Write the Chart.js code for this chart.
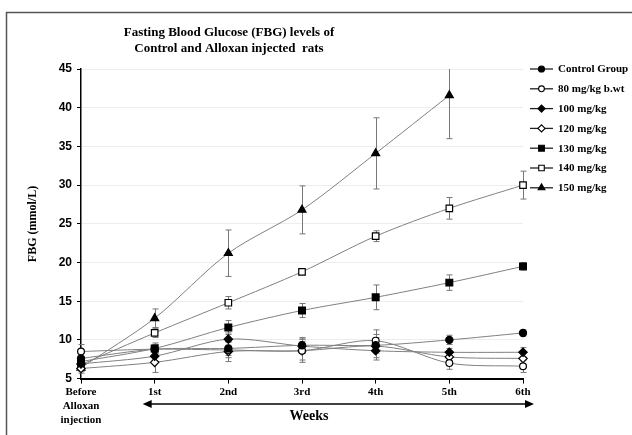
<!DOCTYPE html>
<html>
<head>
<meta charset="utf-8">
<script src="https://cdn.jsdelivr.net/npm/chart.js@4/dist/chart.umd.min.js"></script>
<style>
  html, body { margin: 0; padding: 0; background: #fff; }
  #wrap { width: 632px; height: 435px; position: relative; }
</style>
</head>
<body>
<div id="wrap"><canvas id="fbg" width="632" height="435"></canvas></div>
<script>
// categorías (semanas)
const weeks = [['Before', 'Alloxan', 'injection'], '1st', '2nd', '3rd', '4th', '5th', '6th'];

// medias FBG (mmol/L)
const control  = [7.6, 8.8, 8.9, 9.3, 9.3, 10.0, 10.9];
const dose80   = [8.5, 8.8, 8.7, 8.6, 9.9, 7.0, 6.6];
const dose100  = [6.9, 7.9, 10.1, 9.2, 8.6, 8.4, 8.4];
const dose120  = [6.3, 7.1, 8.5, 8.6, 9.2, 7.8, 7.6];
const dose130  = [7.2, 8.9, 11.6, 13.8, 15.5, 17.4, 19.5];
const dose140  = [6.8, 10.9, 14.8, 18.8, 23.4, 27.0, 30.0];
const dose150  = [6.4, 12.8, 21.2, 26.8, 34.1, 41.6, null];

// barras de error (± DE)
const errControl = [0.8, 0.6, 0.9, 1.0, 1.0, 0.6, 0.4];
const err80      = [0.9, 0.6, 1.0, 1.2, 1.4, 0.8, 0.8];
const err100     = [0.8, 0.7, 0.8, 0.9, 1.2, 0.5, 0.6];
const err120     = [0.6, 1.3, 1.3, 1.5, 1.5, 0.7, 0.8];
const err130     = [0.6, 0.7, 0.9, 0.9, 1.6, 1.0, 0.5];
const err140     = [0.5, 0.6, 0.8, 0.3, 0.7, 1.4, 1.8];
const err150     = [0.5, 1.2, 3.0, 3.1, 4.6, 5.6, null];

const yTicks = [5, 10, 15, 20, 25, 30, 35, 40, 45];

const SERIF = '"Liberation Serif", "Times New Roman", serif';
const SANS = '"Liberation Sans", Arial, sans-serif';

function serie(label, data, errs, style, filled, radius) {
    return {
        label, data, errs,
        borderColor: '#808080',
        borderWidth: 1,
        pointStyle: style,
        pointRadius: radius,
        pointHoverRadius: radius,
        pointBackgroundColor: filled ? '#000' : '#fff',
        pointBorderColor: '#000',
        pointBorderWidth: 1.2,
        tension: 0.3,
        fill: false
    };
}

const datasets = [
    serie('Control Group', control, errControl, 'circle', true, 3.6),
    serie('80 mg/kg b.wt', dose80, err80, 'circle', false, 3.4),
    serie('100 mg/kg', dose100, err100, 'rectRot', true, 4.2),
    serie('120 mg/kg', dose120, err120, 'rectRot', false, 4.2),
    serie('130 mg/kg', dose130, err130, 'rect', true, 4.8),
    serie('140 mg/kg', dose140, err140, 'rect', false, 4.6),
    serie('150 mg/kg', dose150, err150, 'triangle', true, 4.6)
];

// barras de error, marco, título, leyenda y flecha de semanas
const extras = {
    id: 'extras',
    beforeDraw(chart) {
        const ctx = chart.ctx;
        ctx.save();
        ctx.strokeStyle = '#555';
        ctx.lineWidth = 1.5;
        ctx.beginPath();
        ctx.moveTo(6.5, 435);
        ctx.lineTo(6.5, 12.5);
        ctx.lineTo(632, 12.5);
        ctx.stroke();
        ctx.restore();
    },
    beforeDatasetsDraw(chart) {
        const ctx = chart.ctx, x = chart.scales.x, y = chart.scales.y, a = chart.chartArea;
        ctx.save();
        ctx.beginPath();
        ctx.rect(a.left - 6, a.top, a.right - a.left + 12, a.bottom - a.top);
        ctx.clip();
        ctx.strokeStyle = '#777';
        ctx.lineWidth = 1;
        chart.data.datasets.forEach(ds => {
            ds.data.forEach((v, i) => {
                const e = ds.errs[i];
                if (v == null || e == null) return;
                const px = Math.round(x.getPixelForValue(i)) + 0.5;
                const top = y.getPixelForValue(v + e), bot = y.getPixelForValue(v - e);
                ctx.beginPath();
                ctx.moveTo(px, top); ctx.lineTo(px, bot);
                ctx.moveTo(px - 3, top); ctx.lineTo(px + 3, top);
                ctx.moveTo(px - 3, bot); ctx.lineTo(px + 3, bot);
                ctx.stroke();
            });
        });
        ctx.restore();
    },
    afterDraw(chart) {
        const ctx = chart.ctx, x = chart.scales.x;
        ctx.save();
        ctx.fillStyle = '#000';
        ctx.textAlign = 'center';
        ctx.textBaseline = 'middle';

        // título
        ctx.font = 'bold 13px ' + SERIF;
        ctx.fillText('Fasting Blood Glucose (FBG) levels of', 229, 33);
        ctx.fillText('Control and Alloxan injected  rats', 229, 49);

        // título eje Y
        ctx.save();
        ctx.translate(33, 224);
        ctx.rotate(-Math.PI / 2);
        ctx.font = 'bold 12px ' + SERIF;
        ctx.fillText('FBG (mmol/L)', 0, 0);
        ctx.restore();

        // flecha doble de semanas
        const x1 = x.getPixelForValue(1) - 12, x2 = x.getPixelForValue(6) + 11, ay = 404;
        ctx.strokeStyle = '#000';
        ctx.lineWidth = 1.5;
        ctx.beginPath();
        ctx.moveTo(x1 + 6, ay); ctx.lineTo(x2 - 6, ay);
        ctx.stroke();
        ctx.beginPath();
        ctx.moveTo(x1, ay); ctx.lineTo(x1 + 9, ay - 4); ctx.lineTo(x1 + 9, ay + 4); ctx.closePath();
        ctx.moveTo(x2, ay); ctx.lineTo(x2 - 9, ay - 4); ctx.lineTo(x2 - 9, ay + 4); ctx.closePath();
        ctx.fill();
        ctx.font = 'bold 14px ' + SERIF;
        ctx.fillText('Weeks', 309, 416);

        // leyenda
        ctx.textAlign = 'left';
        ctx.font = 'bold 11px ' + SERIF;
        chart.data.datasets.forEach((ds, i) => {
            const ly = 69 + i * 19.8;
            ctx.strokeStyle = '#222';
            ctx.lineWidth = 1.3;
            ctx.beginPath();
            ctx.moveTo(530, ly); ctx.lineTo(553, ly);
            ctx.stroke();
            ctx.fillStyle = ds.pointBackgroundColor;
            ctx.strokeStyle = '#000';
            ctx.lineWidth = 1.1;
            Chart.helpers.drawPoint(ctx, { pointStyle: ds.pointStyle, radius: ds.pointRadius * 0.85, borderWidth: 1.1 }, 541.5, ly);
            ctx.fillStyle = '#000';
            ctx.fillText(ds.label, 558, ly + 0.5);
        });
        ctx.restore();
    }
};

new Chart(document.getElementById('fbg'), {
    type: 'line',
    data: { labels: weeks, datasets },
    plugins: [extras],
    options: {
        responsive: false,
        animation: false,
        layout: { padding: { top: 69, right: 109, left: 0, bottom: 0 } },
        plugins: {
            legend: { display: false },
            tooltip: { enabled: false }
        },
        scales: {
            x: {
                type: 'category',
                offset: false,
                afterFit: s => { s.height = 56.4; },
                grid: { drawOnChartArea: false, color: '#000', tickLength: 5, lineWidth: 1 },
                border: { color: '#000', width: 2 },
                ticks: {
                    color: '#000',
                    padding: 2,
                    maxRotation: 0,
                    autoSkip: false,
                    font: { family: SERIF, size: 11, weight: 'bold', lineHeight: 1.25 }
                }
            },
            y: {
                min: 5,
                max: 45,
                afterFit: s => { s.width = 81; },
                afterBuildTicks: s => { s.ticks = yTicks.map(v => ({ value: v })); },
                grid: { color: '#ededed', tickColor: '#000', tickLength: 4, lineWidth: 1 },
                border: { color: '#000', width: 1.5 },
                ticks: {
                    color: '#000',
                    padding: 5,
                    font: { family: SANS, size: 12, weight: 'bold' }
                }
            }
        }
    }
});
</script>
</body>
</html>
